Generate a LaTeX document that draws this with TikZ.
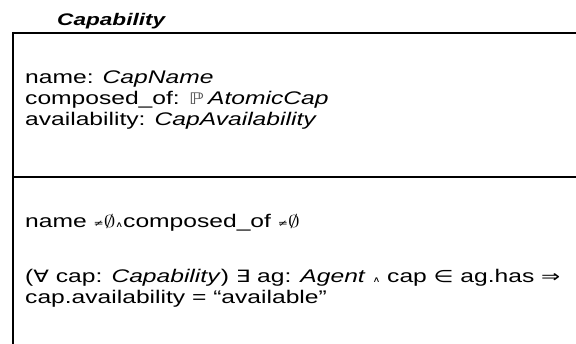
\documentclass[tikz,border=0pt]{standalone}
\usepackage{fontspec}
\setmainfont{Liberation Sans}
\newfontfamily\symf{DejaVu Sans}
% symbol at a given size
\newcommand{\symsz}[2]{{\symf\fontsize{#1}{#1}\selectfont #2}}
% wide setting of a text line
\newcommand{\wide}[1]{\scalebox{1.345}[1]{#1}}
\newcommand{\noteq}{\raisebox{1.5pt}{\symsz{9}{≠}}}
\newcommand{\empt}{$\emptyset$}
\newcommand{\andsym}{\raisebox{0.5pt}{\symsz{8}{∧}}}
\begin{document}
\begin{tikzpicture}[x=1pt,y=-1pt,
  txt/.style={anchor=base west,inner sep=0pt,font=\fontsize{18.3}{21}\selectfont},
  ttl/.style={anchor=base west,inner sep=0pt,font=\fontsize{16.8}{21}\selectfont\bfseries\itshape},
  frame/.style={line width=2pt,black}]
\useasboundingbox (0,0) rectangle (576,344);
% class name
\node[ttl] (title) at (57,25.5) {\wide{Capability}};
% class frame: top edge, left edge, compartment divider
\coordinate (tl) at (12,33);
\coordinate (tr) at (576,33);
\coordinate (bl) at (13,344);
\coordinate (dl) at (12,177);
\coordinate (dr) at (576,177);
\draw[frame] (tr) -- (tl);
\draw[frame] (13,32) -- (bl);
\draw[frame] (dl) -- (dr);
% attributes
\node[txt] (a1) at (25,84) {\wide{name: \textit{CapName}}};
\node[txt] (a2) at (25,105) {\wide{composed\_of: \symsz{16}{\color{black!65}ℙ}\,\textit{AtomicCap}}};
\node[txt] (a3) at (25,126) {\wide{availability: \textit{CapAvailability}}};
% invariants
\node[txt] (c1) at (25,228) {\wide{name \noteq\empt\andsym composed\_of \noteq\empt}};
\node[txt] (c2) at (25,283) {\wide{(\symsz{17}{∀} cap: \textit{Capability}) \symsz{17}{∃} ag: \textit{Agent} \andsym{} cap \symsz{17}{∈} ag.has \symsz{17}{⇒}}};
\node[txt] (c3) at (25,304) {\wide{cap.availability = “available”}};
\end{tikzpicture}
\end{document}
